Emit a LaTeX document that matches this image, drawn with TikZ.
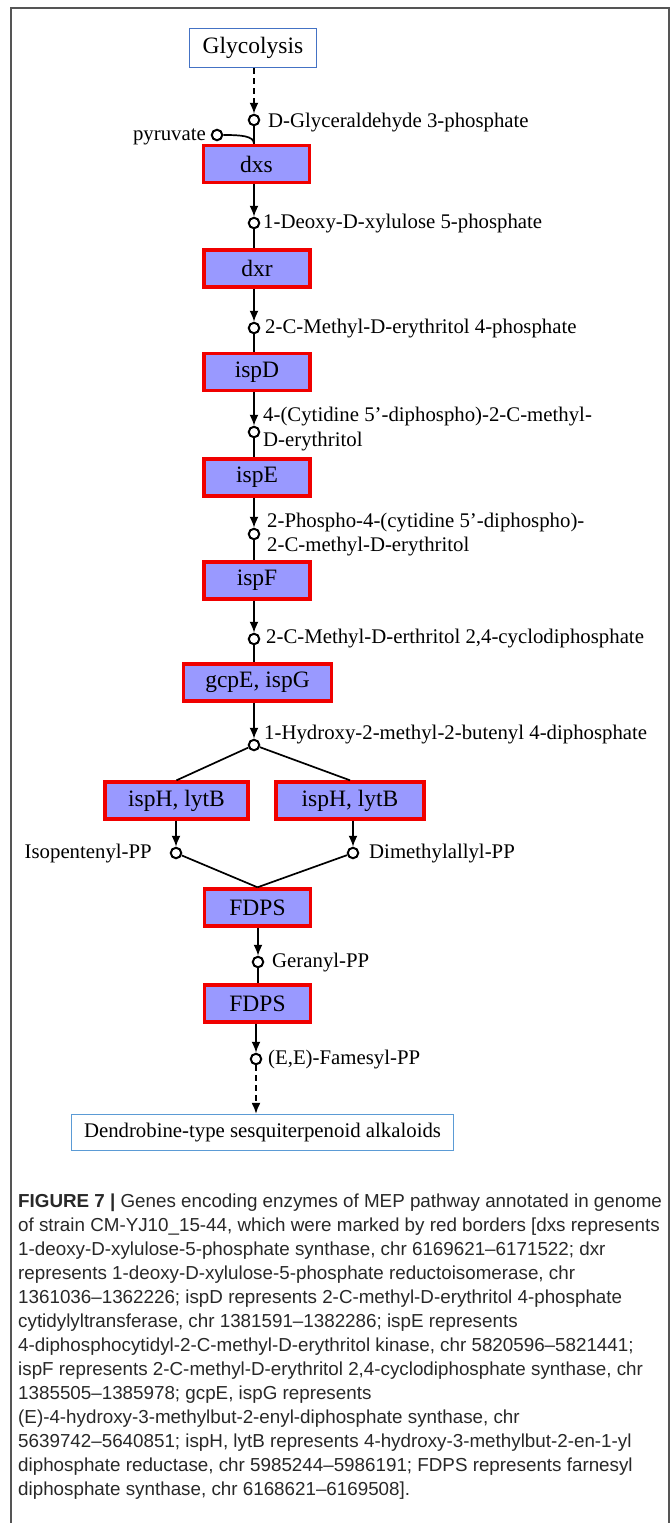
\documentclass[tikz,border=0pt]{standalone}
\usepackage{fontspec}
\setmainfont{Liberation Serif}
\newfontfamily\capfont{Liberation Sans}
\usetikzlibrary{arrows.meta}
\definecolor{genefill}{RGB}{153,153,255}
\definecolor{genered}{RGB}{240,0,0}
\definecolor{glyblue}{RGB}{68,114,196}
\definecolor{dendblue}{RGB}{91,155,213}
\definecolor{framegray}{RGB}{85,85,85}
\definecolor{captext}{RGB}{40,40,40}
\tikzset{
  gene/.style={draw=genered, line width=3.4pt, fill=genefill, minimum height=37, minimum width=106, inner sep=0pt, font=\fontsize{23.5}{28}\selectfont},
  endbox/.style={draw=#1, line width=1.3pt, fill=white, inner sep=0pt, font=\fontsize{23.5}{28}\selectfont},
  met/.style={circle, draw=black, line width=2pt, fill=white, minimum size=10.5, inner sep=0pt},
  lab/.style={inner sep=0pt, font=\fontsize{20.8}{25}\selectfont},
  conn/.style={line width=1.7pt, draw=black},
  arr/.style={conn, -{Latex[length=11,width=9]}},
  darr/.style={arr, dash pattern=on 6pt off 4pt},
  capline/.style={anchor=base west, inner sep=0pt, text=captext, font=\capfont\fontsize{18.8}{24}\selectfont}
}
\begin{document}
\begin{tikzpicture}[x=1pt,y=-1pt]
\useasboundingbox (0,0) rectangle (671,1523);
\fill[white] (0,0) rectangle (671,1523);
\draw[framegray, line width=1.6pt] (11,1523) -- (11,8) -- (669,8) -- (669,1523);

% start / end boxes
\node[endbox=glyblue, minimum width=127, minimum height=39] (gly) at (253,48) {Glycolysis};
\node[endbox=dendblue, minimum width=382, minimum height=36, font=\fontsize{20.8}{25}\selectfont] (dend) at (262.5,1132.5) {Dendrobine-type sesquiterpenoid alkaloids};

% gene boxes
\node[gene] (dxs) at (256.5,164) {dxs};
\node[gene] (dxr) at (257,268.5) {dxr};
\node[gene] (ispD) at (257,372) {ispD};
\node[gene] (ispE) at (257,477.5) {ispE};
\node[gene] (ispF) at (257,580.5) {ispF};
\node[gene, minimum width=148] (gcpE) at (257.5,682.5) {gcpE, ispG};
\node[gene, minimum width=143] (ispHL) at (176.5,800.5) {ispH, lytB};
\node[gene, minimum width=148] (ispHR) at (350,800.5) {ispH, lytB};
\node[gene] (fdps1) at (257.5,907.5) {FDPS};
\node[gene] (fdps2) at (257.5,1003.5) {FDPS};

% metabolites
\node[met] (c1) at (254,120) {};
\node[met] (cp) at (217,135) {};
\node[met] (c2) at (254,223) {};
\node[met] (c3) at (254,328) {};
\node[met] (c4) at (254,432) {};
\node[met] (c5) at (254,534) {};
\node[met] (c6) at (254,639) {};
\node[met] (c7) at (254,745) {};
\node[met] (c8) at (176,853) {};
\node[met] (c9) at (353,853) {};
\node[met] (c10) at (258,962) {};
\node[met] (c11) at (256,1059) {};

% labels
\node[lab, anchor=base west] (l1) at (268,127) {D-Glyceraldehyde 3-phosphate};
\node[lab, anchor=base east] (lp) at (206,140) {pyruvate};
\node[lab, anchor=base west] (l2) at (263,228) {1-Deoxy-D-xylulose 5-phosphate};
\node[lab, anchor=base west] (l3) at (265,333) {2-C-Methyl-D-erythritol 4-phosphate};
\node[lab, anchor=base west] (l4a) at (263,421) {4-(Cytidine 5’-diphospho)-2-C-methyl-};
\node[lab, anchor=base west] (l4b) at (263,446) {D-erythritol};
\node[lab, anchor=base west] (l5a) at (267,527) {2-Phospho-4-(cytidine 5’-diphospho)-};
\node[lab, anchor=base west] (l5b) at (267,551) {2-C-methyl-D-erythritol};
\node[lab, anchor=base west] (l6) at (266,643) {2-C-Methyl-D-erthritol 2,4-cyclodiphosphate};
\node[lab, anchor=base west] (l7) at (264,739) {1-Hydroxy-2-methyl-2-butenyl 4-diphosphate};
\node[lab, anchor=base east] (l8) at (152,858) {Isopentenyl-PP};
\node[lab, anchor=base west] (l9) at (369,858) {Dimethylallyl-PP};
\node[lab, anchor=base west] (l10) at (272,967) {Geranyl-PP};
\node[lab, anchor=base west] (l11) at (268,1064) {(E,E)-Famesyl-PP};

% connectors
\draw[darr] (gly.south -| c1) -- (c1);
\draw[conn] (c1) -- (c1 |- dxs.north);
\draw[conn] (cp) .. controls +(24,0) and +(0,-8) .. (c1 |- dxs.north);
\draw[arr] (dxs.south -| c2) -- (c2);
\draw[conn] (c2) -- (c2 |- dxr.north);
\draw[arr] (dxr.south -| c3) -- (c3);
\draw[conn] (c3) -- (c3 |- ispD.north);
\draw[arr] (ispD.south -| c4) -- (c4);
\draw[conn] (c4) -- (c4 |- ispE.north);
\draw[arr] (ispE.south -| c5) -- (c5);
\draw[conn] (c5) -- (c5 |- ispF.north);
\draw[arr] (ispF.south -| c6) -- (c6);
\draw[conn] (c6) -- (c6 |- gcpE.north);
\draw[arr] (gcpE.south -| c7) -- (c7);
\draw[conn] (c7) -- (ispHL.north);
\draw[conn] (c7) -- (ispHR.north);
\draw[arr] (ispHL.south -| c8) -- (c8);
\draw[arr] (ispHR.south -| c9) -- (c9);
\draw[conn] (c8) -- (fdps1.north);
\draw[conn] (c9) -- (fdps1.north);
\draw[arr] (fdps1.south -| c10) -- (c10);
\draw[conn] (c10) -- (c10 |- fdps2.north);
\draw[arr] (fdps2.south -| c11) -- (c11);
\draw[darr] (c11) -- (c11 |- dend.north);

% caption
\node[capline] (cap1) at (18,1207) {{\bfseries FIGURE 7 |} Genes encoding enzymes of MEP pathway annotated in genome};
\node[capline] (cap2) at (18,1231) {of strain CM-YJ10\_15-44, which were marked by red borders [dxs represents};
\node[capline] (cap3) at (18,1255) {1-deoxy-D-xylulose-5-phosphate synthase, chr 6169621–6171522; dxr};
\node[capline] (cap4) at (18,1279) {represents 1-deoxy-D-xylulose-5-phosphate reductoisomerase, chr};
\node[capline] (cap5) at (18,1303) {1361036–1362226; ispD represents 2-C-methyl-D-erythritol 4-phosphate};
\node[capline] (cap6) at (18,1327) {cytidylyltransferase, chr 1381591–1382286; ispE represents};
\node[capline] (cap7) at (18,1351) {4-diphosphocytidyl-2-C-methyl-D-erythritol kinase, chr 5820596–5821441;};
\node[capline] (cap8) at (18,1375) {ispF represents 2-C-methyl-D-erythritol 2,4-cyclodiphosphate synthase, chr};
\node[capline] (cap9) at (18,1399) {1385505–1385978; gcpE, ispG represents};
\node[capline] (cap10) at (18,1423) {(E)-4-hydroxy-3-methylbut-2-enyl-diphosphate synthase, chr};
\node[capline] (cap11) at (18,1447) {5639742–5640851; ispH, lytB represents 4-hydroxy-3-methylbut-2-en-1-yl};
\node[capline] (cap12) at (18,1471) {diphosphate reductase, chr 5985244–5986191; FDPS represents farnesyl};
\node[capline] (cap13) at (18,1495) {diphosphate synthase, chr 6168621–6169508].};
\end{tikzpicture}
\end{document}
